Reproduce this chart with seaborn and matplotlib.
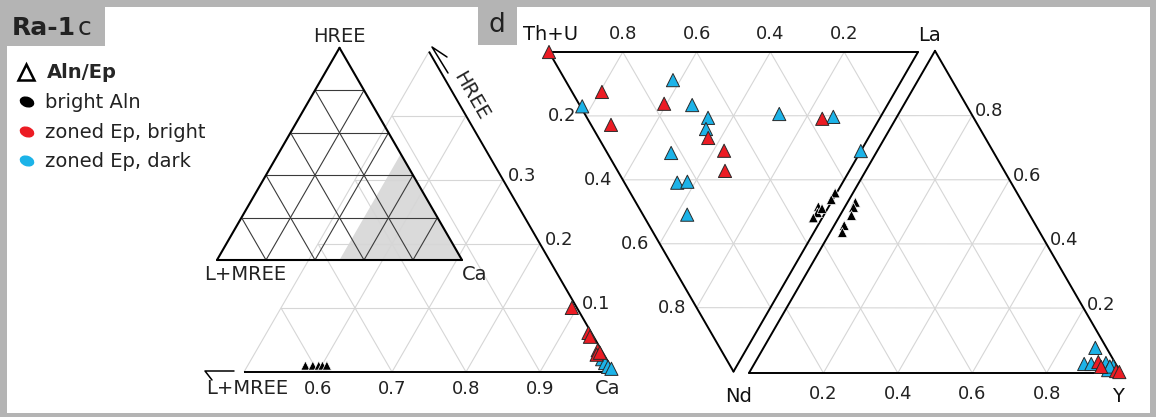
import numpy as np
import pandas as pd
import matplotlib
matplotlib.use("Agg")
import matplotlib.pyplot as plt
from matplotlib.patches import Polygon, Rectangle, Ellipse
import seaborn as sns

sns.set_theme(style="white")
plt.rcParams["font.family"] = ["DejaVu Sans"]

# ---------------------------------------------------------------- data
GROUPS = ["bright Aln", "zoned Ep, bright", "zoned Ep, dark"]
COLORS = {"bright Aln": "#000000", "zoned Ep, bright": "#ec1c24", "zoned Ep, dark": "#1cb3e8"}

# panel c : Ca - HREE - (L+MREE) site proportions
c_group = (["bright Aln"] * 5 + ["zoned Ep, bright"] * 6 + ["zoned Ep, dark"] * 4)
c_ca = [0.578, 0.588, 0.596, 0.601, 0.607,
        0.893, 0.935, 0.940, 0.961, 0.963, 0.966,
        0.974, 0.981, 0.988, 0.994]
c_hree = [0.010, 0.010, 0.010, 0.010, 0.010,
          0.100, 0.061, 0.055, 0.034, 0.027, 0.030,
          0.020, 0.014, 0.008, 0.005]
c_lmree = [1 - a - b for a, b in zip(c_ca, c_hree)]

# panel d, left triangle : (Th+U) - La - Nd
dl_group = (["zoned Ep, bright", "zoned Ep, dark", "zoned Ep, bright", "zoned Ep, bright",
             "zoned Ep, dark", "zoned Ep, bright", "zoned Ep, dark", "zoned Ep, dark",
             "zoned Ep, dark", "zoned Ep, bright", "zoned Ep, bright", "zoned Ep, bright",
             "zoned Ep, dark", "zoned Ep, dark", "zoned Ep, dark", "zoned Ep, dark",
             "zoned Ep, dark", "zoned Ep, bright", "zoned Ep, dark", "zoned Ep, dark"]
            + ["bright Aln"] * 6)
dl_thu = [1.000, 0.825, 0.794, 0.718, 0.620, 0.607, 0.529, 0.466, 0.454, 0.434,
          0.371, 0.337, 0.511, 0.448, 0.422, 0.371, 0.279, 0.155, 0.128, 0.000,
          0.004, 0.004, 0.028, 0.021, 0.024, 0.015]
dl_la = [0.000, 0.005, 0.081, 0.054, 0.292, 0.231, 0.305, 0.328, 0.305, 0.297,
         0.320, 0.291, 0.173, 0.143, 0.172, 0.120, 0.527, 0.636, 0.669, 0.690,
         0.555, 0.534, 0.488, 0.476, 0.457, 0.495]
dl_nd = [0.000, 0.170, 0.125, 0.228, 0.088, 0.162, 0.166, 0.206, 0.241, 0.269,
         0.309, 0.372, 0.316, 0.409, 0.406, 0.509, 0.194, 0.209, 0.203, 0.310,
         0.441, 0.462, 0.484, 0.503, 0.519, 0.490]

# panel d, right triangle : La - Nd - Y
dr_group = (["bright Aln"] * 5 + ["zoned Ep, dark"] * 7 + ["zoned Ep, bright"] * 4)
dr_la = [0.530, 0.514, 0.489, 0.458, 0.436,
         0.078, 0.028, 0.028, 0.031, 0.022, 0.009, 0.020,
         0.034, 0.019, 0.006, 0.003]
dr_nd = [0.449, 0.462, 0.480, 0.515, 0.531,
         0.030, 0.085, 0.066, 0.025, 0.010, 0.030, 0.020,
         0.044, 0.044, 0.010, 0.003]
dr_y = [0.021, 0.024, 0.031, 0.027, 0.033,
        0.892, 0.887, 0.906, 0.944, 0.968, 0.961, 0.960,
        0.922, 0.937, 0.984, 0.994]

c_base_ticks = [0.6, 0.7, 0.8, 0.9]
c_side_ticks = [0.1, 0.2, 0.3]
d_ticks = [0.2, 0.4, 0.6, 0.8]

# ---------------------------------------------------------------- geometry
H = np.sqrt(3) / 2
C_MAIN = [(614, 372), (614 - 370, 372 - 740 * H), (614 - 740, 372)]   # Ca, HREE, L+MREE
C_INSET = [(462, 260), (462 - 122.5, 260 - 245 * H), (217, 260)]     # Ca, HREE, L+MREE
D_LEFT = [(549, 52), (918, 52), (733.5, 52 + 369 * H)]               # Th+U, La, Nd
D_RIGHT = [(935, 373 - 372 * H), (749, 373), (1121, 373)]            # La, Nd, Y


def tern(verts, a, b, c):
    a, b, c = (np.asarray(v, float) for v in (a, b, c))
    s = a + b + c
    P = np.asarray(verts, float)
    xy = np.outer(a / s, P[0]) + np.outer(b / s, P[1]) + np.outer(c / s, P[2])
    return xy[:, 0], xy[:, 1]


def pt(verts, a, b, c):
    x, y = tern(verts, [a], [b], [c])
    return x[0], y[0]


def seg(ax, verts, p, q, **kw):
    x0, y0 = pt(verts, *p)
    x1, y1 = pt(verts, *q)
    ax.plot([x0, x1], [y0, y1], solid_capstyle="butt", **kw)


def full_grid(ax, verts, step, skip_horizontal=None, **kw):
    ks = np.arange(step, 1 - step / 2, step)
    for i in range(3):
        if i == skip_horizontal:
            continue
        j, l = [m for m in range(3) if m != i]
        for k in ks:
            p = [0, 0, 0]
            q = [0, 0, 0]
            p[i] = q[i] = k
            p[j] = 1 - k
            q[l] = 1 - k
            seg(ax, verts, p, q, **kw)


def edges(ax, verts, which=(0, 1, 2), **kw):
    P = list(verts) + [verts[0]]
    for i in which:
        ax.plot([P[i][0], P[i + 1][0]], [P[i][1], P[i + 1][1]], **kw)


# ---------------------------------------------------------------- figure
fig = plt.figure(figsize=(11.56, 4.17), dpi=100)
ax = fig.add_axes([0, 0, 1, 1])

GRID = dict(color="#d6d6d6", lw=0.8, zorder=1)
EDGE = dict(color="black", lw=1.4, zorder=3)
FRAME = "#b4b4b4"

# outer frame and panel tags
for r in [(0, 0, 1156, 7), (0, 0, 7, 417), (1150, 0, 6, 417), (0, 413, 1156, 4),
          (7, 7, 98, 39), (478, 7, 39, 38)]:
    ax.add_patch(Rectangle(r[:2], r[2], r[3], facecolor=FRAME, edgecolor="none", zorder=0))
ax.text(12, 28, "Ra-1", fontsize=18, fontweight="bold", color="#222", va="center", ha="left")
ax.text(78, 28, "c", fontsize=18, color="#222", va="center", ha="left")
ax.text(497, 25, "d", fontsize=19, color="#222", va="center", ha="center")

# legend
ax.plot([26], [72], marker="^", mfc="none", mec="black", ms=11, mew=1.8, zorder=4)
ax.text(47, 72, "Aln/Ep", fontsize=14, fontweight="bold", va="center", ha="left")
for yy, g in zip([102, 132, 161], GROUPS):
    ax.add_patch(Ellipse((27, yy), 15, 10.5, angle=20, facecolor=COLORS[g], edgecolor="none"))
    ax.text(45, yy, g, fontsize=14, va="center", ha="left", color="#222")

# ---- panel c inset (full triangle with shaded Ca >= 0.5 field)
ax.add_patch(Polygon([pt(C_INSET, 1, 0, 0), pt(C_INSET, 0.5, 0.5, 0), pt(C_INSET, 0.5, 0, 0.5)],
                     closed=True, facecolor="#dadada", edgecolor="none", zorder=1))
full_grid(ax, C_INSET, 0.2, color="#3a3a3a", lw=0.8, zorder=2)
edges(ax, C_INSET, color="black", lw=1.5, zorder=3)
ax.text(339, 36, "HREE", fontsize=14, ha="center", va="center", color="#222")
ax.text(245, 275, "L+MREE", fontsize=14, ha="center", va="center", color="#222")
ax.text(475, 275, "Ca", fontsize=14, ha="center", va="center", color="#222")

# ---- panel c main (Ca >= 0.5 sub-triangle)
for k in [0.6, 0.7, 0.8, 0.9]:
    seg(ax, C_MAIN, (k, 0, 1 - k), (k, 1 - k, 0), **GRID)
for k in [0.1, 0.2, 0.3, 0.4]:
    seg(ax, C_MAIN, (0.5, k, 0.5 - k), (1 - k, k, 0), **GRID)
    seg(ax, C_MAIN, (1 - k, 0, k), (0.5, 0.5 - k, k), **GRID)
seg(ax, C_MAIN, (0.5, 0, 0.5), (0.5, 0.5, 0), **GRID)
seg(ax, C_MAIN, (0.5, 0, 0.5), (1, 0, 0), **EDGE)
seg(ax, C_MAIN, (1, 0, 0), (0.5, 0.5, 0), **EDGE)

for t in c_base_ticks:
    x, y = pt(C_MAIN, t, 0, 1 - t)
    ax.text(x, y + 17, f"{t:.1f}", fontsize=13, ha="center", va="center", color="#222")
for t in c_side_ticks:
    x, y = pt(C_MAIN, 1 - t, t, 0)
    ax.text(x + 5, y - 4, f"{t:.1f}", fontsize=13, ha="left", va="center", color="#222")
ax.text(247, 389, "L+MREE", fontsize=14, ha="center", va="center", color="#222")
ax.text(608, 389, "Ca", fontsize=14, ha="center", va="center", color="#222")
ax.text(471, 96, "HREE", fontsize=14, ha="center", va="center", rotation=-60,
        rotation_mode="anchor", color="#222")
# direction marks
ax.plot([234, 205, 212], [371, 371, 380], color="black", lw=1.1, zorder=3)
ax.plot([447, 432, 448], [57, 47, 73], color="black", lw=1.1, zorder=3)

# ---- panel d grids and frames
full_grid(ax, D_LEFT, 0.2, skip_horizontal=2, **GRID)
full_grid(ax, D_RIGHT, 0.2, skip_horizontal=0, **GRID)
for k in d_ticks:
    x0, y0 = pt(D_LEFT, 1 - k, 0, k)
    x1, y1 = pt(D_RIGHT, 1 - k, 0, k)
    ax.plot([x0, x1], [y0, (y0 + y1) / 2], **GRID)
edges(ax, D_LEFT, **EDGE)
edges(ax, D_RIGHT, **EDGE)

for t in d_ticks:
    x, y = pt(D_LEFT, t, 1 - t, 0)
    ax.text(x, 34, f"{t:.1f}", fontsize=13, ha="center", va="center", color="#222")
    x, y = pt(D_LEFT, 1 - t, 0, t)
    ax.text(x - 10, y, f"{t:.1f}", fontsize=13, ha="right", va="center", color="#222")
    x, y = pt(D_RIGHT, t, 0, 1 - t)
    ax.text(x + 3, y - 4, f"{t:.1f}", fontsize=13, ha="left", va="center", color="#222")
    x, y = pt(D_RIGHT, 0, 1 - t, t)
    ax.text(x, 394, f"{t:.1f}", fontsize=13, ha="center", va="center", color="#222")
ax.text(551, 34, "Th+U", fontsize=14, ha="center", va="center", color="#111")
ax.text(929, 35, "La", fontsize=14, ha="center", va="center", color="#111")
ax.text(739, 396, "Nd", fontsize=14, ha="center", va="center", color="#111")
ax.text(1118, 396, "Y", fontsize=14, ha="center", va="center", color="#111")

# ---------------------------------------------------------------- points
frames = []
for verts, grp, a, b, c in [(C_MAIN, c_group, c_ca, c_hree, c_lmree),
                            (D_LEFT, dl_group, dl_thu, dl_la, dl_nd),
                            (D_RIGHT, dr_group, dr_la, dr_nd, dr_y)]:
    x, y = tern(verts, a, b, c)
    frames.append(pd.DataFrame({"x": x, "y": y, "group": grp,
                                "panel": "c" if verts is C_MAIN else "d"}))
pts = pd.concat(frames, ignore_index=True)

for g, size, ec, lw, z in [("zoned Ep, dark", 90, "#2a2a2a", 0.7, 5),
                           ("zoned Ep, bright", 90, "#2a2a2a", 0.7, 6)]:
    sub = pts[pts["group"] == g]
    sns.scatterplot(data=sub, x="x", y="y", hue="group", palette=COLORS, marker="^",
                    s=size, edgecolor=ec, linewidth=lw, legend=False, ax=ax, zorder=z)
blk = pts[pts["group"] == "bright Aln"]
for panel, size in [("c", 42), ("d", 50)]:
    sns.scatterplot(data=blk[blk["panel"] == panel], x="x", y="y", hue="group",
                    palette=COLORS, marker="^", s=size, edgecolor="white", linewidth=0.5,
                    legend=False, ax=ax, zorder=7)

ax.set_xlim(0, 1156)
ax.set_ylim(417, 0)
ax.axis("off")
fig.savefig("out.png", dpi=100, facecolor="white")
